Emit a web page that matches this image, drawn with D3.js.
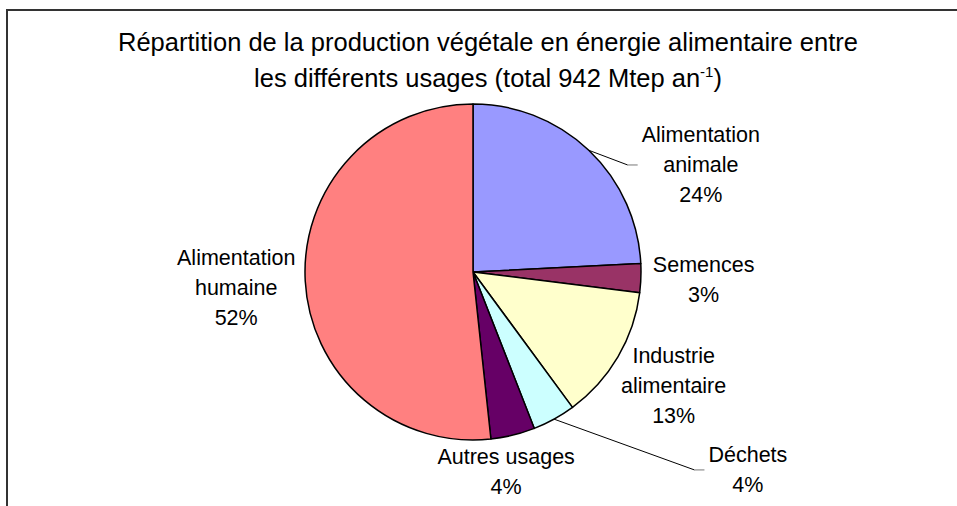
<!DOCTYPE html>
<html>
<head>
<meta charset="utf-8">
<script src="https://cdn.jsdelivr.net/npm/d3@7"></script>
<style>
  body { margin: 0; background: #fff; }
  svg { display: block; font-family: "Liberation Sans", Arial, sans-serif; }
</style>
</head>
<body>
<script>
// categories, clockwise from 12 o'clock
var categories = ["Alimentation animale", "Semences", "Industrie alimentaire", "Déchets", "Autres usages", "Alimentation humaine"];
var labelLines = [["Alimentation", "animale"], ["Semences"], ["Industrie", "alimentaire"], ["Déchets"], ["Autres usages"], ["Alimentation", "humaine"]];
// Mtep per year (total 942)
var values = [228, 26, 122, 39, 40, 487];
var colors = ["#9999FF", "#993366", "#FFFFCC", "#CCFFFF", "#660066", "#FF8080"];
var titleLine1 = "Répartition de la production végétale en énergie alimentaire entre";
var titleLine2 = "les différents usages (total 942 Mtep an";

var width = 957, height = 506;
var cx = 473, cy = 272, radius = 168;
var labelGap = 12, lineH = 30;
// labels that were dragged away in the original get a leader line
var labelMove = [[63, 56], [0, 0], [0, 0], [169, 14], [-26, -4], [2, 4]];
var hasLeader = [true, false, false, true, false, false];

var total = d3.sum(values);

var svg = d3.select("body").append("svg")
  .attr("width", width)
  .attr("height", height);

// chart frame (right and bottom edges fall outside the picture)
svg.append("rect")
  .attr("x", 7).attr("y", 10)
  .attr("width", 970).attr("height", 520)
  .attr("fill", "#fff")
  .attr("stroke", "#333")
  .attr("stroke-width", 2);

var title = svg.append("text")
  .attr("text-anchor", "middle")
  .attr("font-size", 25.5)
  .attr("fill", "#000");
title.append("tspan").attr("x", 488).attr("y", 51).text(titleLine1);
var t2 = title.append("tspan").attr("x", 488).attr("y", 87);
t2.append("tspan").text(titleLine2);
t2.append("tspan").attr("dy", -10).attr("font-size", 15).text("-1");
t2.append("tspan").attr("dy", 10).text(")");

var pie = d3.pie().sort(null).value(function(d) { return d; });
var arcs = pie(values);
var arc = d3.arc().innerRadius(0).outerRadius(radius);

var g = svg.append("g").attr("transform", "translate(" + cx + "," + cy + ")");

g.selectAll("path.slice")
  .data(arcs)
  .enter().append("path")
  .attr("class", "slice")
  .attr("d", arc)
  .attr("fill", function(d, i) { return colors[i]; })
  .attr("stroke", "#000")
  .attr("stroke-width", 1.5)
  .attr("stroke-linejoin", "round");

arcs.forEach(function(d, i) {
  var a = (d.startAngle + d.endAngle) / 2;
  var s = Math.sin(a), c = -Math.cos(a);
  var lines = labelLines[i].concat([Math.round(d.value / total * 100) + "%"]);

  var lab = g.append("g");
  var txt = lab.selectAll("text")
    .data(lines)
    .enter().append("text")
    .attr("text-anchor", "middle")
    .attr("font-size", 21.5)
    .attr("fill", "#000")
    .attr("x", 0)
    .attr("y", function(t, k) { return (k - (lines.length - 1) / 2) * lineH + 7; })
    .text(function(t) { return t; });

  var w = d3.max(txt.nodes(), function(n) { return n.getComputedTextLength(); });
  var h = lines.length * lineH;
  // default: box just touches a circle outside the pie
  var px = (radius + labelGap) * s, py = (radius + labelGap) * c;
  var lx = px + s * w / 2 + labelMove[i][0];
  var ly = py + c * h / 2 + labelMove[i][1];
  lab.attr("transform", "translate(" + lx + "," + ly + ")");

  if (hasLeader[i]) {
    var sx = radius * s, sy = radius * c;
    var ex = lx - w / 2 - 4;
    g.append("line")
      .attr("x1", sx).attr("y1", sy)
      .attr("x2", ex - 10).attr("y2", ly)
      .attr("stroke", "#000").attr("stroke-width", 1);
    g.append("line")
      .attr("x1", ex - 10).attr("y1", ly)
      .attr("x2", ex).attr("y2", ly)
      .attr("stroke", "#777").attr("stroke-width", 1);
  }
});
</script>
</body>
</html>
